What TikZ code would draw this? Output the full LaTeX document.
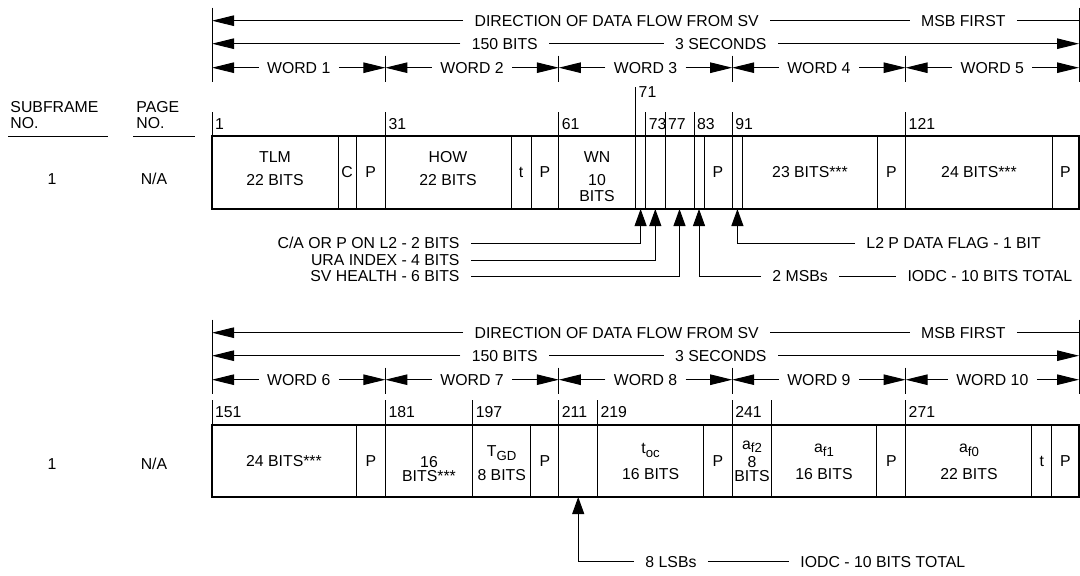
\documentclass[tikz,border=0pt]{standalone}
\usepackage{fontspec}
\setmainfont{Liberation Sans}
\usepackage{tikz}
\usetikzlibrary{arrows.meta,calc,positioning}
\tikzset{
  flowarrow/.style={-{Triangle[length=4.4mm,width=2.1mm]}},
  tiparrow/.style={-{Triangle[length=3.4mm,width=2.4mm]}},
  headlbl/.style={inner xsep=2.2mm,inner ysep=0pt},
  wordlbl/.style={inner xsep=1.6mm,inner ysep=0pt},
  numlbl/.style={anchor=west,inner xsep=1.5pt,inner ysep=0pt},
  fieldtxt/.style={align=center,inner sep=0pt},
  notelbl/.style={inner xsep=2.2mm,inner ysep=0pt},
  colhead/.style={align=left,anchor=west,inner sep=0pt},
  boxline/.style={line width=.8pt},
}
\newcommand{\lowsub}[1]{\raisebox{-.45ex}{\fontsize{7.5}{8}\selectfont #1}}
\newcommand{\flowhead}[2]{% #1 = y of top line, #2 = first word
  \coordinate (hl#2) at (212,#1);
  \coordinate (hr#2) at (1079,#1);
  \draw (212,#1-13) -- (212,#1+61);
  \draw (1079,#1-13) -- (1079,#1+61);
  \node[headlbl] (dir#2) at (616.7,#1) {DIRECTION OF DATA FLOW FROM SV};
  \node[headlbl] (msb#2) at (963.3,#1) {MSB FIRST};
  \draw[flowarrow] (dir#2.west) -- (dir#2.west -| hl#2);
  \draw (dir#2.east) -- (msb#2.west);
  \draw (msb#2.east) -- (msb#2.east -| hr#2);
  \node[headlbl] (len#2) at (504.8,#1+23) {150 BITS};
  \node[headlbl] (sec#2) at (720.8,#1+23) {3 SECONDS};
  \draw[flowarrow] (len#2.west) -- (len#2.west -| hl#2);
  \draw (len#2.east) -- (sec#2.west);
  \draw[flowarrow] (sec#2.east) -- (sec#2.east -| hr#2);
  \foreach \i in {0,...,4}{
    \pgfmathsetmacro\xa{212+173.4*\i}
    \pgfmathsetmacro\xb{\xa+173.4}
    \pgfmathtruncatemacro\wn{#2+\i}
    \draw (\xb,#1+35) -- (\xb,#1+61);
    \node[wordlbl] (word\wn) at ({(\xa+\xb)/2},#1+47) {WORD \wn};
    \draw[flowarrow] (word\wn.west) -- (\xa,#1+47);
    \draw[flowarrow] (word\wn.east) -- (\xb,#1+47);
  }
}

\begin{document}
\begin{tikzpicture}[x=.2mm,y=-.2mm,font=\fontsize{9}{13}\selectfont,line width=.55pt]
  \useasboundingbox (0,0) rectangle (1080,575);
  % column heads
  \node[colhead] (sfhead) at (10,115) {SUBFRAME\\[-4pt]NO.};
  \node[colhead] (pghead) at (136,115) {PAGE\\[-4pt]NO.};
  \draw (8,136) -- (108,136);
  \draw (133,136) -- (195,136);
  \node (sf1) at (52,179) {1};
  \node (pg1) at (154,179) {N/A};
  \node (sf2) at (52,464) {1};
  \node (pg2) at (154,464) {N/A};

  % words 1 to 5
  \flowhead{20.7}{1}
  \draw[boxline] (212,136) rectangle (1079,209);
  \foreach \x in {338,356,511,531,704,742.7,877,1052} \draw (\x,136) -- (\x,209);
  \foreach \x/\b in {212/1,385.4/31,558.8/61,645.7/73,665/77,694/83,732.2/91,905.6/121}{
    \draw (\x,112) -- (\x,209);
    \node[numlbl] (bit\b) at (\x,124) {\b};
  }
  \draw (635.6,87) -- (635.6,209);
  \node[numlbl] (bit71) at (635.6,92) {71};
  \node[fieldtxt] (tlm) at (275,168.5) {TLM\\22 BITS};
  \node[fieldtxt] (cbit) at (347,172) {C};
  \node[fieldtxt] (pa) at (370.7,172) {P};
  \node[fieldtxt] (how) at (448,168.5) {HOW\\22 BITS};
  \node[fieldtxt] (tbit) at (521,172) {t};
  \node[fieldtxt] (pb) at (545,172) {P};
  \node[fieldtxt] (wnum) at (597,176.5) {WN\\10\\[-4pt]BITS};
  \node[fieldtxt] (pc) at (718,172) {P};
  \node[fieldtxt] (wfour) at (810,172) {23 BITS***};
  \node[fieldtxt] (pd) at (891.5,172) {P};
  \node[fieldtxt] (wfive) at (979,172) {24 BITS***};
  \node[fieldtxt] (pe) at (1065.5,172) {P};

  % pointers into word 3
  \coordinate (fca) at (640.6,209);
  \coordinate (fura) at (655.3,209);
  \coordinate (fsvh) at (679.5,209);
  \coordinate (fmsb) at (699,209);
  \coordinate (fl2) at (737.4,209);
  \node[notelbl,anchor=east] (ca) at (471,243.3) {C/A OR P ON L2 - 2 BITS};
  \node[notelbl,anchor=east] (ura) at (471,260) {URA INDEX - 4 BITS};
  \node[notelbl,anchor=east] (svh) at (471,276) {SV HEALTH - 6 BITS};
  \draw[tiparrow] (ca.east) -| (fca);
  \draw[tiparrow] (ura.east) -| (fura);
  \draw[tiparrow] (svh.east) -| (fsvh);
  \node[notelbl,anchor=west] (l2) at (855,243.3) {L2 P DATA FLAG - 1 BIT};
  \draw[tiparrow] (l2.west) -| (fl2);
  \node[notelbl,anchor=west] (msbs) at (761,276) {2 MSBs};
  \node[notelbl,anchor=west] (iodca) at (896,276) {IODC - 10 BITS TOTAL};
  \draw[tiparrow] (msbs.west) -| (fmsb);
  \draw (msbs.east) -- (iodca.west);

  % words 6 to 10
  \flowhead{332.7}{6}
  \draw[boxline] (212,425) rectangle (1079,497);
  \foreach \x in {356,530.7,703.7,876.7,1031.7,1051.7} \draw (\x,425) -- (\x,497);
  \foreach \x/\b in {212/151,385.4/181,472.7/197,558.8/211,597.5/219,732.2/241,905.6/271}{
    \draw (\x,400) -- (\x,497);
    \node[numlbl] (bit\b) at (\x,412) {\b};
  }
  \draw (771.7,400) -- (771.7,497);
  \node[fieldtxt] (wsix) at (284,461) {24 BITS***};
  \node[fieldtxt] (pf) at (371,461) {P};
  \node[fieldtxt] (wseven) at (429,468.7) {16\\[-5pt]BITS***};
  \node[fieldtxt] (tgd) at (501.7,462.9) {T\lowsub{GD}\\[0.6pt]8 BITS};
  \node[fieldtxt] (pg) at (545,461) {P};
  \node[fieldtxt] (toc) at (650.6,461.6) {t\lowsub{oc}\\[1.7pt]16 BITS};
  \node[fieldtxt] (ph) at (718,461) {P};
  \node[fieldtxt] (afz) at (752,461) {a\lowsub{f2}\\[-2.6pt]8\\[-5pt]BITS};
  \node[fieldtxt] (afo) at (824,462.2) {a\lowsub{f1}\\[2.3pt]16 BITS};
  \node[fieldtxt] (pi) at (891.5,461) {P};
  \node[fieldtxt] (afn) at (969,462.2) {a\lowsub{f0}\\[2.3pt]22 BITS};
  \node[fieldtxt] (tbitb) at (1041.7,461) {t};
  \node[fieldtxt] (pj) at (1065.5,461) {P};

  % pointer into word 8
  \coordinate (flsb) at (578.2,497);
  \node[notelbl,anchor=west] (lsbs) at (634,561.7) {8 LSBs};
  \node[notelbl,anchor=west] (iodcb) at (789,561.7) {IODC - 10 BITS TOTAL};
  \draw[tiparrow] (lsbs.west) -| (flsb);
  \draw (lsbs.east) -- (iodcb.west);
\end{tikzpicture}
\end{document}
